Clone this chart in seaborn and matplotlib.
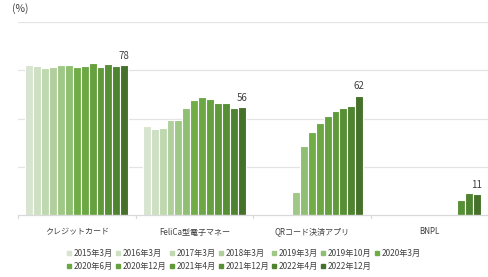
import numpy as np
import pandas as pd
import matplotlib
matplotlib.use("Agg")
import matplotlib.pyplot as plt
import seaborn as sns
from matplotlib.lines import Line2D

categories = ['クレジットカード', 'FeliCa型電子マネー', 'QRコード決済アプリ', 'BNPL']
periods = ['2015年3月', '2016年3月', '2017年3月', '2018年3月', '2019年3月', '2019年10月',
           '2020年3月', '2020年6月', '2020年12月', '2021年4月', '2021年12月', '2022年4月', '2022年12月']
nan = np.nan
credit = [77.7, 77.1, 76.3, 76.8, 78.0, 78.0, 76.6, 77.5, 78.9, 77.0, 78.4, 77.5, 78]
felica = [46.4, 44.5, 45.3, 49.5, 49.5, 55.7, 59.7, 61.4, 60.4, 58.3, 57.9, 55.7, 56]
qr = [nan, nan, nan, nan, 11.8, 36.0, 43.1, 47.9, 51.4, 54.1, 55.7, 56.7, 62]
bnpl = [nan] * 10 + [7.8, 11.6, 11]
colors = ['#D7E4D0', '#CDE0C2', '#BFD8B0', '#B0CF9C', '#9FC886', '#8EBF72', '#71AD47',
          '#6BA844', '#65A13F', '#5E9A3A', '#578F35', '#4E8430', '#46712A']

rows = []
for cat, vals in zip(categories, [credit, felica, qr, bnpl]):
    for p, v in zip(periods, vals):
        if not np.isnan(v):
            rows.append({'cat': cat, 'period': p, 'value': v})
df = pd.DataFrame(rows)

sns.set_style('white')
plt.rcParams['font.family'] = ['Noto Sans CJK JP', 'DejaVu Sans']
text_color = '#404040'

fig = plt.figure(figsize=(4.88, 2.77), dpi=100)
ax = fig.add_axes([18 / 488, 1 - 215 / 277, 470 / 488, (215 - 22.3) / 277])

sns.barplot(data=df, x='cat', y='value', hue='period', order=categories, hue_order=periods,
            palette=colors, width=0.875, edgecolor='white', linewidth=0.8, legend=False,
            saturation=1, ax=ax)

ax.set_ylim(0, 100)
ax.set_xlim(-0.5, 3.5)
ax.set_yticks([25, 50, 75, 100])
ax.set_yticklabels([])
ax.tick_params(axis='y', length=0)
ax.yaxis.grid(True, color='#E4E4E4', linewidth=0.9)
ax.set_axisbelow(True)
for s in ['top', 'right', 'left']:
    ax.spines[s].set_visible(False)
ax.spines['bottom'].set_color('#D9D9D9')
ax.spines['bottom'].set_linewidth(0.9)

ax.set_xticks([0, 1, 2, 3])
ax.set_xticklabels(categories, fontsize=5.8, color=text_color)
ax.tick_params(axis='x', length=0, pad=9)
for b in [-0.5, 0.5, 1.5, 2.5]:
    ax.plot([b, b], [0, -1.8], color='#D9D9D9', lw=0.9, clip_on=False)
ax.set_xlabel('')
ax.set_ylabel('')

ax.bar_label(ax.containers[-1], fmt='%.0f', padding=3, fontsize=7, color=text_color)

fig.text(12 / 488, 1 - 9 / 277, '(%)', fontsize=7.5, color=text_color, va='center', ha='left')

handles = [Line2D([], [], marker='s', linestyle='none', markersize=3.0, color=c) for c in colors]
order = [0, 7, 1, 8, 2, 9, 3, 10, 4, 11, 5, 12, 6]
fig.legend([handles[i] for i in order], [periods[i] for i in order], ncol=7, loc='upper left',
           bbox_to_anchor=(67 / 488, 1 - 249 / 277),
           frameon=False, fontsize=5.9, handlelength=0.55, handletextpad=0.3, columnspacing=0.35,
           labelspacing=0.45, borderaxespad=0, borderpad=0, labelcolor=text_color)

fig.savefig('out.png', dpi=100)
